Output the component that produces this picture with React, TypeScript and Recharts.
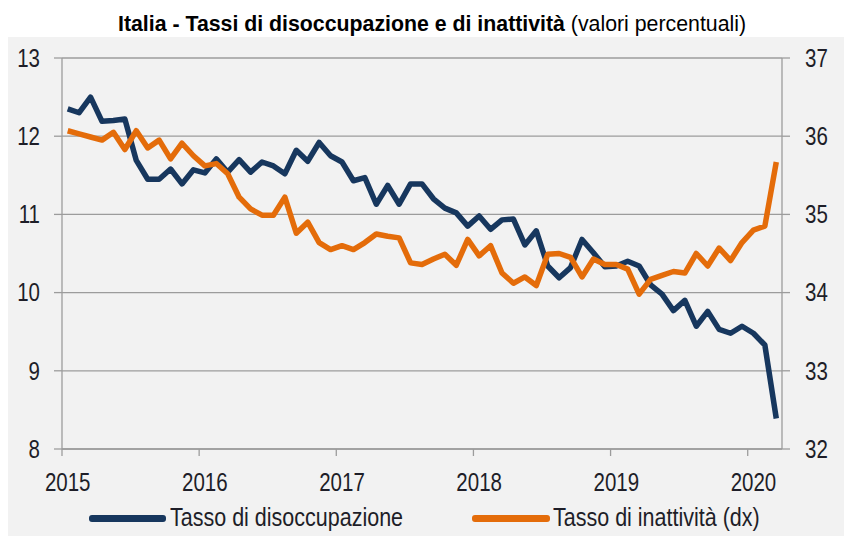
import { LineChart, Line, XAxis, YAxis, CartesianGrid } from "recharts";

// monthly, Jan 2015 - Mar 2020
const unemployment = [
  12.35, 12.3, 12.5, 12.19, 12.2, 12.22, 11.69, 11.45, 11.45, 11.58, 11.39, 11.57,
  11.53, 11.71, 11.54, 11.7, 11.54, 11.67, 11.62, 11.52, 11.82, 11.68, 11.92, 11.75,
  11.67, 11.43, 11.47, 11.13, 11.37, 11.13, 11.39, 11.39, 11.2, 11.08, 11.02, 10.85,
  10.98, 10.81, 10.93, 10.94, 10.61, 10.79, 10.34, 10.19, 10.32, 10.68, 10.51, 10.33,
  10.34, 10.4, 10.34, 10.1, 9.98, 9.77, 9.9, 9.57, 9.76, 9.53, 9.48, 9.57,
  9.48, 9.33, 8.39,
];

const inactivity = [
  36.07, 36.03, 35.99, 35.95, 36.05, 35.83, 36.07, 35.85, 35.95, 35.71, 35.91, 35.75,
  35.62, 35.65, 35.52, 35.22, 35.07, 34.99, 34.99, 35.22, 34.76, 34.9, 34.64, 34.55,
  34.6, 34.55, 34.64, 34.75, 34.72, 34.7, 34.38, 34.36, 34.43, 34.49, 34.35, 34.68,
  34.47, 34.6, 34.25, 34.12, 34.2, 34.09, 34.49, 34.5, 34.45, 34.2, 34.43, 34.36,
  34.36, 34.3, 33.98, 34.17, 34.22, 34.27, 34.25, 34.5, 34.34, 34.57, 34.41, 34.64,
  34.8, 34.85, 35.67,
];

const yearTicks = [0, 12, 24, 36, 48, 60];
const yearLabels = ["2015", "2016", "2017", "2018", "2019", "2020"];
const leftTicks = [8, 9, 10, 11, 12, 13];
const rightTicks = [32, 33, 34, 35, 36, 37];

const data = unemployment.map((u, i) => ({ i, u, inact: inactivity[i] }));

const W = 844;
const H = 536;
const PLOT_LEFT = 62;
const PLOT_RIGHT = 782;
const PLOT_TOP = 58;
const PLOT_BOTTOM = 449;
const HALF_STEP = (PLOT_RIGHT - PLOT_LEFT) / data.length / 2;

const NAVY = "#17375E";
const ORANGE = "#E46C0A";
const GRID = "#9C9C9C";
const TEXT = "#1E1E28";
const FONT = "'Liberation Sans', Arial, sans-serif";
const SQUEEZE = 0.82; // narrow face, no Arial Narrow installed
const LEGEND_SQUEEZE = 0.86;

const X_TICK = 7;
const X_MARGIN = 17;

function YearTick(props: any) {
  const { x, y, payload } = props;
  const idx = yearTicks.indexOf(payload.value);
  const lx = x - HALF_STEP;
  const top = y - X_MARGIN - X_TICK;
  return (
    <g>
      <line x1={lx} x2={lx} y1={top} y2={top + X_TICK} stroke={GRID} strokeWidth={1.3} />
      <text
        transform={`translate(${x},${y}) scale(${SQUEEZE},1)`}
        dy="0.71em"
        textAnchor="middle"
        fill={TEXT}
        fontSize={25}
        fontFamily={FONT}
      >
        {yearLabels[idx]}
      </text>
    </g>
  );
}

function ValueTick(props: any) {
  const { x, y, payload, textAnchor } = props;
  return (
    <text
      transform={`translate(${x},${y}) scale(${SQUEEZE},1)`}
      dy="0.355em"
      textAnchor={textAnchor}
      fill={TEXT}
      fontSize={25}
      fontFamily={FONT}
    >
      {payload.value}
    </text>
  );
}

export default function App() {
  const legendText = {
    position: "absolute" as const,
    top: 0,
    transform: `scaleX(${LEGEND_SQUEEZE})`,
    transformOrigin: "left center",
  };
  return (
    <div style={{ position: "relative", width: W, height: H, background: "#fff", overflow: "hidden" }}>
      <style>{"body{margin:0}"}</style>
      <div
        style={{
          position: "absolute",
          left: 8,
          top: 37,
          width: W - 8,
          height: H - 37,
          background: "#F2F2F2",
        }}
      />
      <div
        style={{
          position: "absolute",
          left: 118,
          top: 14,
          whiteSpace: "nowrap",
          fontFamily: FONT,
          fontSize: 21.3,
          lineHeight: "21px",
          color: "#000",
        }}
      >
        <b>Italia - Tassi di disoccupazione e di inattività</b> (valori percentuali)
      </div>
      <div style={{ position: "absolute", left: 0, top: 0 }}>
        <LineChart
          width={W}
          height={H}
          data={data}
          margin={{ top: PLOT_TOP, right: 0, bottom: 0, left: 0 }}
        >
          <CartesianGrid yAxisId="left" vertical={false} stroke={GRID} strokeWidth={1.3} />
          <XAxis
            dataKey="i"
            type="number"
            domain={[-0.5, data.length - 0.5]}
            ticks={yearTicks}
            interval={0}
            height={H - PLOT_BOTTOM}
            tickSize={X_TICK}
            tickMargin={X_MARGIN}
            tickLine={false}
            axisLine={{ stroke: GRID, strokeWidth: 1.3 }}
            tick={<YearTick />}
          />
          <YAxis
            yAxisId="left"
            domain={[8, 13]}
            ticks={leftTicks}
            interval={0}
            width={PLOT_LEFT}
            tickSize={8}
            tickMargin={14}
            axisLine={{ stroke: GRID, strokeWidth: 1.3 }}
            tickLine={{ stroke: GRID, strokeWidth: 1.3 }}
            tick={<ValueTick />}
          />
          <YAxis
            yAxisId="right"
            orientation="right"
            domain={[32, 37]}
            ticks={rightTicks}
            interval={0}
            width={W - PLOT_RIGHT}
            tickSize={8}
            tickMargin={15}
            axisLine={{ stroke: GRID, strokeWidth: 1.3 }}
            tickLine={{ stroke: GRID, strokeWidth: 1.3 }}
            tick={<ValueTick />}
          />
          <Line
            yAxisId="left"
            dataKey="u"
            type="linear"
            stroke={NAVY}
            strokeWidth={5.5}
            strokeLinejoin="round"
            dot={false}
            isAnimationActive={false}
          />
          <Line
            yAxisId="right"
            dataKey="inact"
            type="linear"
            stroke={ORANGE}
            strokeWidth={5.5}
            strokeLinejoin="round"
            dot={false}
            isAnimationActive={false}
          />
        </LineChart>
      </div>
      <div
        style={{
          position: "absolute",
          left: 0,
          top: 505,
          width: W,
          height: 25,
          fontFamily: FONT,
          fontSize: 25,
          lineHeight: "25px",
          color: TEXT,
          whiteSpace: "nowrap",
        }}
      >
        <span style={{ position: "absolute", left: 89, top: 10, width: 77, height: 7, borderRadius: 3, background: NAVY }} />
        <span style={{ ...legendText, left: 170 }}>Tasso di disoccupazione</span>
        <span style={{ position: "absolute", left: 472, top: 10, width: 78, height: 7, borderRadius: 3, background: ORANGE }} />
        <span style={{ ...legendText, left: 553 }}>Tasso di inattività (dx)</span>
      </div>
    </div>
  );
}
